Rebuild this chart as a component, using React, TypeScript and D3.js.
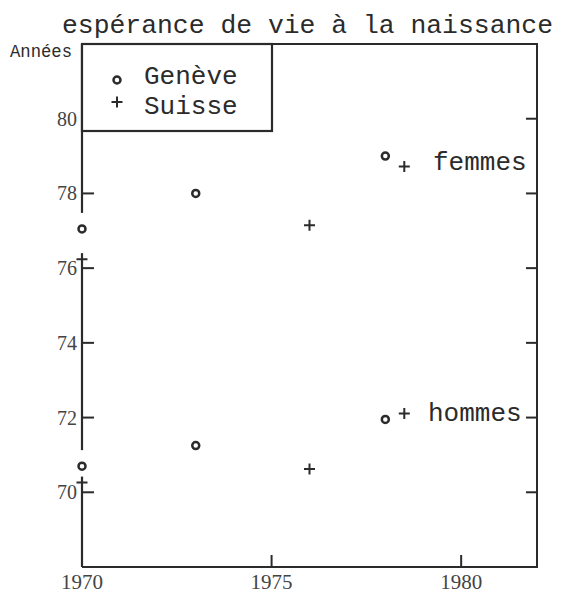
import React from "react";
import * as d3 from "d3";

const title = "espérance de vie à la naissance";
const yTitle = "Années";
const legendLabels = ["Genève", "Suisse"];
const yTicks = [70, 72, 74, 76, 78, 80];
const xTicks = [1970, 1975, 1980];

// Genève (circles)
const genevaYears = [1970, 1973, 1978];
const genevaFemmes = [77.05, 78.0, 79.0];
const genevaHommes = [70.7, 71.25, 71.95];
// Suisse (plus)
const suisseYears = [1970, 1976, 1978.5];
const suisseFemmes = [76.24, 77.15, 78.72];
const suisseHommes = [70.26, 70.62, 72.11];

const W = 561;
const H = 593;
const left = 82;
const right = 537;
const top = 44;
const bottom = 567;
const ink = "#2b2b2b";
const mono = "'Liberation Mono', 'Courier New', monospace";
const serif = "'Liberation Serif', 'DejaVu Serif', serif";

export default function App() {
  const x = d3.scaleLinear().domain([1970, 1982]).range([left, right]);
  const y = d3.scaleLinear().domain([68, 82]).range([bottom, top]);

  const circles = genevaYears.flatMap((yr, i) => [
    { x: yr, y: genevaFemmes[i] },
    { x: yr, y: genevaHommes[i] },
  ]);
  const pluses = suisseYears.flatMap((yr, i) => [
    { x: yr, y: suisseFemmes[i] },
    { x: yr, y: suisseHommes[i] },
  ]);

  // left axis with gaps around the markers lying on it
  const gaps: [number, number][] = [];
  genevaYears.forEach((yr, i) => {
    if (yr === 1970) {
      gaps.push([y(genevaFemmes[i]) - 16, y(suisseFemmes[i]) - 6]);
      gaps.push([y(genevaHommes[i]) - 16, y(suisseHommes[i]) - 6]);
    }
  });
  gaps.sort((a, b) => a[0] - b[0]);
  const segs: [number, number][] = [];
  let cur = top;
  gaps.forEach(([a, b]) => {
    segs.push([cur, a]);
    cur = b;
  });
  segs.push([cur, bottom]);

  const plusPath = (cx: number, cy: number, s = 5.5) =>
    `M${cx - s},${cy}H${cx + s}M${cx},${cy - s}V${cy + s}`;

  return (
    <svg
      width={W}
      height={H}
      style={{ position: "absolute", left: 0, top: 0, background: "#fff" }}
    >
      <text
        x={62}
        y={33}
        fontFamily={mono}
        fontSize={26}
        fill={ink}
        textLength={491}
        lengthAdjust="spacingAndGlyphs"
      >
        {title}
      </text>
      <text x={10} y={57} fontFamily={mono} fontSize={19} fill={ink} textLength={62} lengthAdjust="spacingAndGlyphs">
        {yTitle}
      </text>

      {/* frame: top, right, bottom */}
      <path
        d={`M${left},${top}H${right}V${bottom}H${left}`}
        fill="none"
        stroke={ink}
        strokeWidth={2}
      />
      {segs.map(([a, b], i) => (
        <line key={i} x1={left} x2={left} y1={a} y2={b} stroke={ink} strokeWidth={2.2} />
      ))}

      {/* y ticks */}
      {yTicks.map((t) => (
        <g key={t}>
          <line x1={left} x2={left + 12} y1={y(t)} y2={y(t)} stroke={ink} strokeWidth={2} />
          <line x1={right - 11} x2={right} y1={y(t)} y2={y(t)} stroke={ink} strokeWidth={2} />
          <text
            x={left - 5}
            y={y(t)}
            dy="0.35em"
            textAnchor="end"
            fontFamily={serif}
            fontSize={20}
            fill="#444"
          >
            {t}
          </text>
        </g>
      ))}

      {/* x ticks */}
      {xTicks.map((t) => (
        <g key={t}>
          {t !== 1970 && (
            <line x1={x(t)} x2={x(t)} y1={bottom - 12} y2={bottom} stroke={ink} strokeWidth={2} />
          )}
          <text
            x={x(t)}
            y={bottom + 22}
            textAnchor="middle"
            fontFamily={serif}
            fontSize={21}
            fill="#444"
          >
            {t}
          </text>
        </g>
      ))}

      {/* legend */}
      <rect x={left} y={top} width={272 - left} height={131 - top} fill="#fff" stroke={ink} strokeWidth={2.2} />
      <circle cx={117} cy={80} r={3.5} fill="none" stroke={ink} strokeWidth={2.5} />
      <path d={plusPath(117, 102)} stroke={ink} strokeWidth={2} />
      <text x={144} y={84} fontFamily={mono} fontSize={26} fill={ink}>
        {legendLabels[0]}
      </text>
      <text x={144} y={114} fontFamily={mono} fontSize={26} fill={ink}>
        {legendLabels[1]}
      </text>

      {/* markers */}
      {circles.map((d, i) => (
        <circle key={i} cx={x(d.x)} cy={y(d.y)} r={3.5} fill="none" stroke={ink} strokeWidth={2.5} />
      ))}
      {pluses.map((d, i) => (
        <path key={i} d={plusPath(x(d.x), y(d.y))} stroke={ink} strokeWidth={2} />
      ))}

      <text x={433} y={170} fontFamily={mono} fontSize={26} fill={ink}>
        femmes
      </text>
      <text x={428} y={421} fontFamily={mono} fontSize={26} fill={ink}>
        hommes
      </text>
    </svg>
  );
}
